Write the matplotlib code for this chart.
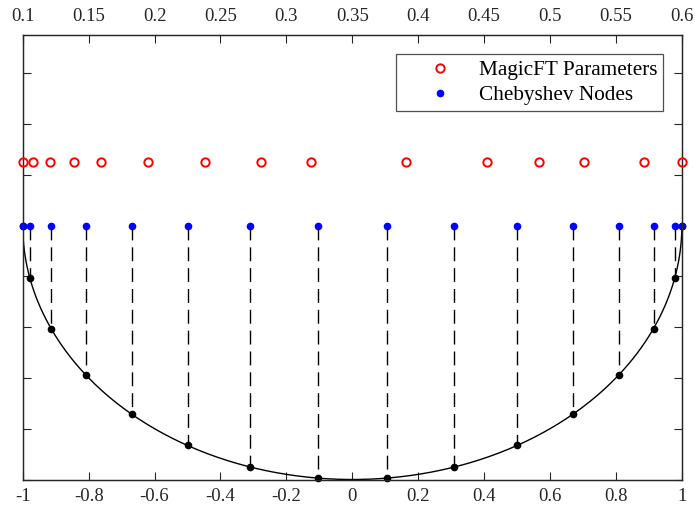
import numpy as np
import matplotlib
matplotlib.use('Agg')
import matplotlib.pyplot as plt
from matplotlib.lines import Line2D

plt.rcParams['font.family'] = ['Liberation Serif', 'DejaVu Serif']
plt.rcParams['axes.unicode_minus'] = False

# Chebyshev nodes (bottom axis) and where they sit on the circle
nodes_x = [-1, -0.978, -0.914, -0.809, -0.669, -0.5, -0.309, -0.105,
           0.105, 0.309, 0.5, 0.669, 0.809, 0.914, 0.978, 1]
nodes_y = [0, -0.208, -0.407, -0.588, -0.743, -0.866, -0.951, -0.995,
           -0.995, -0.951, -0.866, -0.743, -0.588, -0.407, -0.208, 0]

# MagicFT parameters (top axis units)
magic_params = [0.1, 0.108, 0.121, 0.139, 0.159, 0.195, 0.238, 0.281, 0.319,
                0.391, 0.452, 0.4915, 0.526, 0.571, 0.6]
magic_level = 0.25

bottom_ticks = [-1, -0.8, -0.6, -0.4, -0.2, 0, 0.2, 0.4, 0.6, 0.8, 1]
bottom_labels = ['-1', '-0.8', '-0.6', '-0.4', '-0.2', '0', '0.2', '0.4', '0.6', '0.8', '1']
top_ticks = [0.1, 0.15, 0.2, 0.25, 0.3, 0.35, 0.4, 0.45, 0.5, 0.55, 0.6]
top_labels = ['0.1', '0.15', '0.2', '0.25', '0.3', '0.35', '0.4', '0.45', '0.5', '0.55', '0.6']
y_ticks = [-1, -0.8, -0.6, -0.4, -0.2, 0, 0.2, 0.4, 0.6]

axis_col = '#262626'

fig = plt.figure(figsize=(6.95, 5.08), dpi=100)
ax = fig.add_axes([0.0327, 0.0561, 0.9484, 0.8750])

# lower half circle
t = np.linspace(np.pi, 2 * np.pi, 400)
ax.plot(np.cos(t), np.sin(t), color='k', lw=1.0, zorder=2)

# dashed drop lines
for x, y in zip(nodes_x, nodes_y):
    ax.plot([x, x], [0, y], color='k', lw=1.0, linestyle=(0, (10, 5)), zorder=2)

ax.plot(nodes_x, nodes_y, 'o', color='k', ms=4.5, zorder=3, clip_on=False)
ax.plot(nodes_x, [0] * len(nodes_x), 'o', color='#0000ff', ms=4.5, zorder=4, clip_on=False)

ax.set_xlim(-1, 1)
ax.set_ylim(-1, 0.75)
ax.set_xticks(bottom_ticks)
ax.set_xticklabels(bottom_labels)
ax.set_yticks(y_ticks)
ax.set_yticklabels([])
ax.tick_params(direction='in', length=5.5, width=0.8, colors=axis_col,
               labelsize=13.5, labelcolor='#262626', right=True, top=False, pad=6)
for s in ax.spines.values():
    s.set_color(axis_col)
    s.set_linewidth(0.9)

ax2 = ax.twiny()
ax2.set_xlim(0.1, 0.6)
ax2.set_xticks(top_ticks)
ax2.set_xticklabels(top_labels)
ax2.tick_params(direction='in', length=5.5, width=0.8, colors=axis_col,
                labelsize=13.5, labelcolor='#262626', pad=7.5)
for s in ax2.spines.values():
    s.set_color(axis_col)
    s.set_linewidth(0.9)
ax2.plot(magic_params, [magic_level] * len(magic_params), 'o', mfc='none',
         mec='#ff0000', mew=1.4, ms=6, clip_on=False, zorder=4)

handles = [
    Line2D([], [], linestyle='none', marker='o', mfc='none', mec='#ff0000', mew=1.4, ms=6),
    Line2D([], [], linestyle='none', marker='o', color='#0000ff', ms=4.5),
]
leg = ax2.legend(handles, ['MagicFT Parameters', 'Chebyshev Nodes'],
                 loc='upper right', bbox_to_anchor=(0.9716, 0.957), borderaxespad=0,
                 fontsize=15.3, frameon=True, fancybox=False, handletextpad=0.0,
                 borderpad=0.28, labelspacing=0.25, handlelength=3.63)
leg.get_frame().set_edgecolor(axis_col)
leg.get_frame().set_linewidth(0.9)

fig.savefig('out.png', dpi=100)
